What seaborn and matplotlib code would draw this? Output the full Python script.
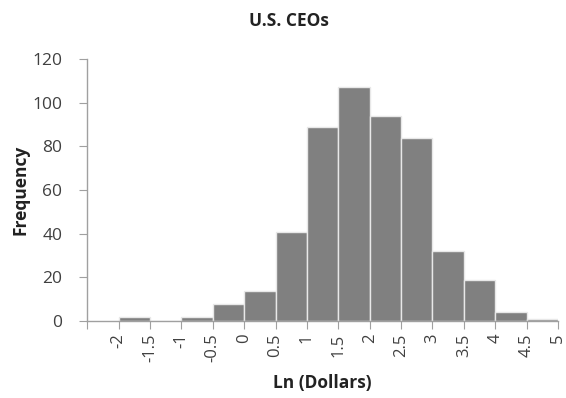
import numpy as np
import pandas as pd
import matplotlib
matplotlib.use("Agg")
import matplotlib.pyplot as plt
import seaborn as sns

# Histogram of log CEO pay: bin edges and counts per bin
bin_edges = [-2.0, -1.5, -1.0, -0.5, 0.0, 0.5, 1.0, 1.5, 2.0, 2.5, 3.0, 3.5, 4.0, 4.5, 5.0]
counts = [2, 0, 2, 8, 14, 41, 89, 107, 94, 84, 32, 19, 4, 1]
tick_labels = ["-2", "-1.5", "-1", "-0.5", "0", "0.5", "1", "1.5", "2",
               "2.5", "3", "3.5", "4", "4.5", "5"]

centers = [(a + b) / 2 for a, b in zip(bin_edges[:-1], bin_edges[1:])]
df = pd.DataFrame({"ln_dollars": centers, "count": counts})

sns.set_style("white")
plt.rcParams["font.family"] = ["Open Sans", "DejaVu Sans"]

fig = plt.figure(figsize=(5.66, 3.98), dpi=100)
ax = fig.add_axes([0.154, 0.193, 0.832, 0.659])

sns.histplot(data=df, x="ln_dollars", weights="count", bins=bin_edges,
             color="#808080", alpha=1.0, edgecolor="#e8e8e8", linewidth=1.0,
             ax=ax)

ax.set_xlim(-2.5, 5.0)
ax.set_ylim(0, 120)
ax.set_xticks([-2.5] + bin_edges)
ax.set_xticklabels([""] + tick_labels, rotation=90, fontsize=12, color="#404040")
ax.set_yticks(range(0, 121, 20))
ax.tick_params(axis="y", labelsize=12.5, labelcolor="#404040", length=6,
               color="#a0a0a0", direction="out", left=True, pad=12)
ax.tick_params(axis="x", length=6, color="#a0a0a0", direction="out",
               bottom=True, pad=3)

for side in ["top", "right"]:
    ax.spines[side].set_visible(False)
for side in ["left", "bottom"]:
    ax.spines[side].set_color("#a0a0a0")
    ax.spines[side].set_linewidth(1.0)

ax.set_xlabel("Ln (Dollars)", fontsize=12.5, fontweight="bold", color="#222222", labelpad=8)
ax.set_ylabel("Frequency", fontsize=12.5, fontweight="bold", color="#222222", labelpad=2)
fig.suptitle("U.S. CEOs", x=0.51, y=0.97, fontsize=12.5, fontweight="bold", color="#222222")

fig.savefig("out.png", dpi=100, facecolor="white")
